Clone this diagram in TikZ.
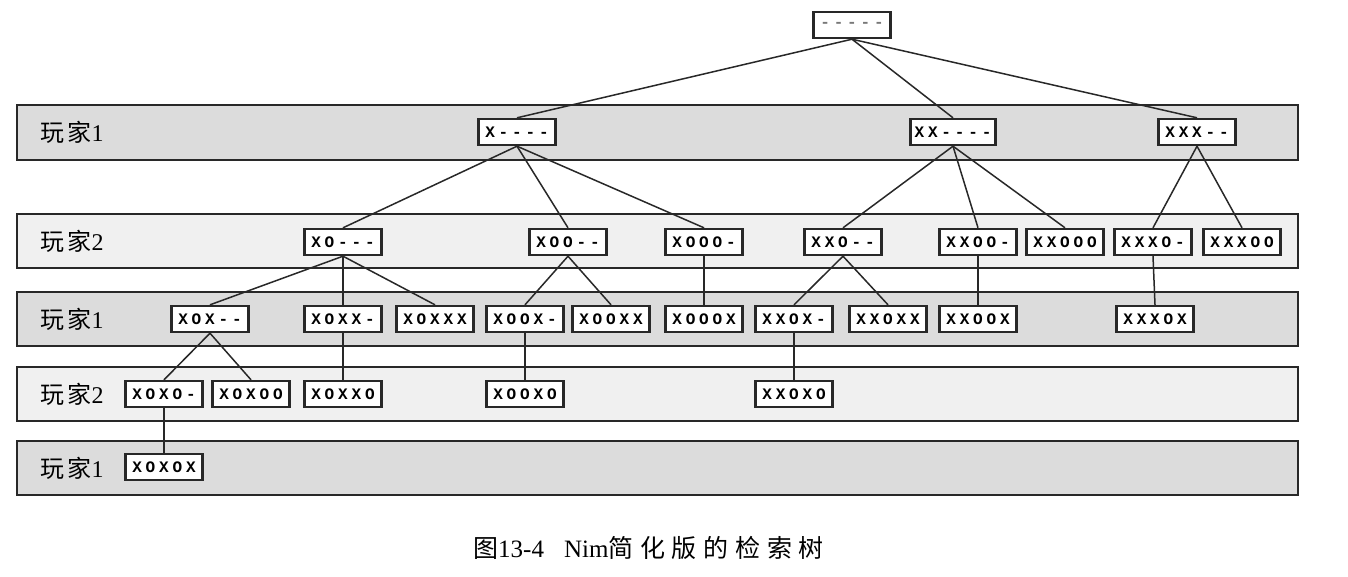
\documentclass[tikz,border=0pt]{standalone}
\usepackage{fontspec}
\setmainfont{Liberation Serif}
\newfontfamily\cjk{Noto Sans CJK SC}
\newfontfamily\cjkwide{Noto Sans CJK SC}[LetterSpace=14]
\newfontfamily\cjkcap{Noto Sans CJK SC}[LetterSpace=27]
\newfontfamily\boxfont{Liberation Mono}[LetterSpace=24]
\usepackage{tikz}
\usetikzlibrary{positioning}
\usepackage{xcolor}
\definecolor{nimline}{RGB}{40,40,40}
\definecolor{nimdash}{RGB}{120,120,120}
\definecolor{nimband}{RGB}{220,220,220}
\definecolor{nimbandlt}{RGB}{240,240,240}

\tikzset{
  band/.style={draw=nimline,line width=2.4pt},
  player/.style={anchor=west,font=\fontsize{24}{24}\selectfont,inner sep=0pt},
  state/.style={draw=nimline,line width=2.4pt,fill=white,minimum width=77pt,
    minimum height=26pt,inner ysep=0pt,inner xsep=4pt,
    font=\boxfont\bfseries\fontsize{16}{16}\selectfont},
  edge/.style={nimline,line width=1.5pt}
}

\begin{document}
\begin{tikzpicture}[x=1pt,y=-1pt]
  \useasboundingbox (0,0) rectangle (1348,576);

  % player bands
  \foreach \yt/\yb/\col/\lab [count=\i] in {
    105/160/nimband/1,
    214/268/nimbandlt/2,
    292/346/nimband/1,
    367/421/nimbandlt/2,
    441/495/nimband/1
  } {
    \draw[band,fill=\col] (17,\yt) rectangle (1298,\yb);
    \node[player] (p\i) at (40,{(\yt+\yb)/2}) {{\cjkwide 玩家}\lab};
  }

  \node[state] (root) at (852,25) {\color{nimdash}-{}-{}-{}-{}-};

  \foreach \n/\x/\t in {x/517/{X-{}-{}-{}-}, xx/953/{XX-{}-{}-{}-}, xxx/1197/{XXX-{}-}}
    \node[state] (\n) at (\x,132) {\t};

  \foreach \n/\x/\t in {
    xo/343/{XO-{}-{}-}, xoo/568/{XOO-{}-}, xooo/704/{XOOO-},
    xxo/843/{XXO-{}-}, xxoo/978/{XXOO-}, xxooo/1065/{XXOOO},
    xxxo/1153/{XXXO-}, xxxoo/1242/{XXXOO}}
    \node[state] (\n) at (\x,242) {\t};

  \foreach \n/\x/\t in {
    xox/210/{XOX-{}-}, xoxx/343/{XOXX-}, xoxxx/435/{XOXXX},
    xoox/525/{XOOX-}, xooxx/611/{XOOXX}, xooox/704/{XOOOX},
    xxox/794/{XXOX-}, xxoxx/888/{XXOXX}, xxoox/978/{XXOOX},
    xxxox/1155/{XXXOX}}
    \node[state] (\n) at (\x,319) {\t};

  \foreach \n/\x/\t in {
    xoxo/164/{XOXO-}, xoxoo/251/{XOXOO}, xoxxo/343/{XOXXO},
    xooxo/525/{XOOXO}, xxoxo/794/{XXOXO}}
    \node[state] (\n) at (\x,394) {\t};

  \node[state] (xoxox) at (164,467) {XOXOX};

  \foreach \a/\b in {
    root/x, root/xx, root/xxx,
    x/xo, x/xoo, x/xooo, xx/xxo, xx/xxoo, xx/xxooo, xxx/xxxo, xxx/xxxoo,
    xo/xox, xo/xoxx, xo/xoxxx, xoo/xoox, xoo/xooxx, xooo/xooox,
    xxo/xxox, xxo/xxoxx, xxoo/xxoox, xxxo/xxxox,
    xox/xoxo, xox/xoxoo, xoxx/xoxxo, xoox/xooxo, xxox/xxoxo,
    xoxo/xoxox}
    \draw[edge] (\a.south) -- (\b.north);

  \node[anchor=west,font=\fontsize{25}{25}\selectfont,inner sep=0pt] (cap) at (473,548)
    {{\cjk 图}13-4\hspace{20pt}Nim{\cjkcap 简化版的检索树}};
\end{tikzpicture}
\end{document}
